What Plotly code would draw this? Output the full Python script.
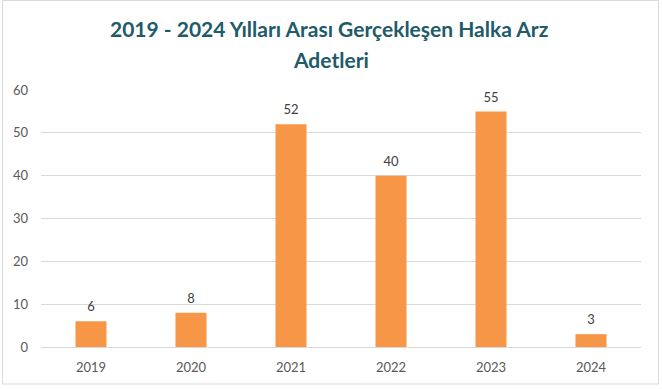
import plotly.graph_objects as go

years = ["2019", "2020", "2021", "2022", "2023", "2024"]
counts = [6, 8, 52, 40, 55, 3]
y_ticks = [0, 10, 20, 30, 40, 50, 60]

W, H = 662, 389
L, R, T, B = 41, 641, 90, 347

def px_x(px):
    return (px - L) / (R - L)

def px_y(py):
    return (B - py) / (B - T)

fig = go.Figure()
fig.add_trace(go.Bar(
    x=years, y=counts,
    marker=dict(color="#F79646", line=dict(width=0)),
    hoverinfo="skip",
))
fig.add_trace(go.Scatter(
    x=years, y=counts, mode="markers+text",
    text=[str(c) for c in counts], textposition="top center",
    marker=dict(size=9, color="rgba(0,0,0,0)"),
    textfont=dict(family="Lato, Open Sans, sans-serif", size=13, color="#404040"),
    hoverinfo="skip", cliponaxis=False,
))

fig.update_layout(
    width=W, height=H,
    margin=dict(l=L, r=W - R, t=T, b=H - B),
    paper_bgcolor="white", plot_bgcolor="white",
    bargap=0.69,
    showlegend=False,
    font=dict(family="Lato, Open Sans, sans-serif", color="#595959", size=13),
    xaxis=dict(type="category", showgrid=False, showline=True, linecolor="#D9D9D9", linewidth=1,
               ticks="", ticklabelstandoff=8, tickfont=dict(size=13, color="#595959")),
    yaxis=dict(range=[0, 60], tickvals=y_ticks, showgrid=True, gridcolor="#D9D9D9",
               gridwidth=1, zeroline=False, showline=False, ticks="",
               ticklabelstandoff=12,
               tickfont=dict(size=13, color="#595959")),
    annotations=[
        dict(text="<b>2019 - 2024 Yılları Arası Gerçekleşen Halka Arz</b>",
             x=px_x(329), y=px_y(29), xref="paper", yref="paper",
             showarrow=False, xanchor="center", yanchor="middle",
             font=dict(family="Lato, Open Sans, sans-serif", size=21, color="#215A69")),
        dict(text="<b>Adetleri</b>",
             x=px_x(331), y=px_y(59), xref="paper", yref="paper",
             showarrow=False, xanchor="center", yanchor="middle",
             font=dict(family="Lato, Open Sans, sans-serif", size=21, color="#215A69")),
    ],
    shapes=[
        dict(type="rect", xref="paper", yref="paper",
             x0=px_x(2.5), x1=px_x(658.5), y0=px_y(384), y1=px_y(0.5),
             line=dict(color="#D9D9D9", width=1), fillcolor="rgba(0,0,0,0)", layer="below"),
    ],
)

fig.write_html("out.html", config={"displayModeBar": False},
               post_script="document.body.style.margin='0';document.body.style.overflow='hidden';")
